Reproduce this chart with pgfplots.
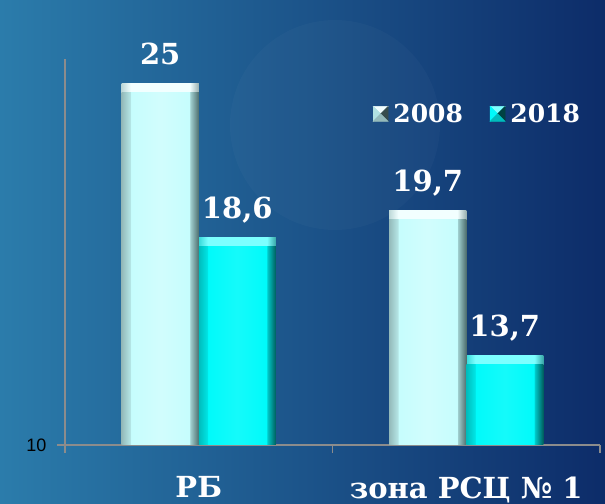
\documentclass[border=0pt]{standalone}
\usepackage{pgfplots}
\usepackage{pgfplotstable}
\pgfplotsset{compat=1.18}
\usepackage{fontspec}
\setmainfont{DejaVu Serif}
\newfontfamily\arialfont{Liberation Sans}

\definecolor{bgA}{HTML}{2B7CAB}
\definecolor{bgB}{HTML}{0D2C69}
\definecolor{axgray}{HTML}{8C8C8C}
% 2008 bars
\definecolor{aFace}{HTML}{C6FDFD}
\definecolor{aTop}{HTML}{F2FFFF}
\definecolor{aLeft}{HTML}{94BABA}
\definecolor{aRight}{HTML}{4E6E6E}
\definecolor{aBot}{HTML}{A8C8C8}
% 2018 bars
\definecolor{bFace}{HTML}{00FAFA}
\definecolor{bTop}{HTML}{7CFFFF}
\definecolor{bLeft}{HTML}{00BCBC}
\definecolor{bRight}{HTML}{005E5E}
\definecolor{bBot}{HTML}{00A0A0}

% side bevels (x: 25bp = left edge of bar, 75bp = right edge, 9bp bevel = 5.8bp here)
\pgfdeclarehorizontalshading{bevA}{100bp}{color(0bp)=(aLeft); color(25bp)=(aLeft);
  color(30.6bp)=(aLeft!35!aFace); color(31bp)=(aFace); color(50bp)=(aFace!80!white);
  color(69bp)=(aFace); color(69.4bp)=(aRight!30!aFace); color(75bp)=(aRight); color(100bp)=(aRight)}
\pgfdeclarehorizontalshading{bevB}{100bp}{color(0bp)=(bLeft); color(25bp)=(bLeft);
  color(30.6bp)=(bLeft!35!bFace); color(31bp)=(bFace); color(50bp)=(bFace!92!white); color(69bp)=(bFace);
  color(69.4bp)=(bRight!30!bFace); color(75bp)=(bRight); color(100bp)=(bRight)}
% top bevels
\pgfdeclarehorizontalshading{capA}{100bp}{color(0bp)=(aLeft); color(25bp)=(aLeft!55!aTop);
  color(30.8bp)=(aTop); color(69.2bp)=(aTop); color(75bp)=(aRight!55!aTop); color(100bp)=(aRight)}
\pgfdeclarehorizontalshading{capB}{100bp}{color(0bp)=(bLeft); color(25bp)=(bLeft!55!bTop);
  color(30.8bp)=(bTop); color(69.2bp)=(bTop); color(75bp)=(bRight!55!bTop); color(100bp)=(bRight)}

\newcommand\legsq[4]{%
  \fill[#1] (0bp,7.5bp) -- (15bp,7.5bp) -- (7.5bp,0bp) -- cycle;
  \fill[#2] (0bp,7.5bp) -- (0bp,-7.5bp) -- (7.5bp,0bp) -- cycle;
  \fill[#3] (15bp,7.5bp) -- (15bp,-7.5bp) -- (7.5bp,0bp) -- cycle;
  \fill[#4] (0bp,-7.5bp) -- (15bp,-7.5bp) -- (7.5bp,0bp) -- cycle;
}

\pgfplotstableread{
x y label
0 25 25
1 19.7 19,7
}\tblA
\pgfplotstableread{
x y label
0 18.6 18,6
1 13.7 13,7
}\tblB

\pgfplotsset{
  capbar/.style n args={3}{shade, shading=#1, draw=none, bar shift=#2, forget plot,
    restrict x to domain=#3, nodes near coords={\pgfplotspointmeta}},
  bodybar/.style n args={3}{shade, shading=#1, draw=none, bar shift=#2, forget plot,
    restrict x to domain=#3, yshift=-9bp},
}

\begin{document}
\begin{tikzpicture}
\useasboundingbox (0,0) rectangle (605bp,504bp);
\shade[left color=bgA, right color=bgB] (0,0) rectangle (605bp,504bp);
\fill[white, opacity=0.025] (335bp,379bp) circle (105bp);
\begin{axis}[
  at={(65bp,59bp)}, anchor=south west,
  scale only axis, width=535bp, height=386bp,
  xmin=-0.5, xmax=1.5, ymin=10, ymax=26,
  axis x line=bottom, axis y line=left,
  axis line style={axgray, line width=1.5bp, -},
  xtick={-0.5,0.5,1.5}, x tick label as interval,
  xticklabels={РБ, зона РСЦ № 1},
  ytick={10}, yticklabels={10},
  tick style={axgray, line width=1.5bp},
  tick align=outside,
  major tick length=8bp,
  xticklabel style={font=\fontsize{29bp}{32bp}\selectfont\bfseries, text=white, yshift=-20bp},
  yticklabel style={font=\arialfont\fontsize{18bp}{20bp}\selectfont, text=black, xshift=-7bp},
  ybar, bar width=0.288,
  point meta=explicit symbolic,
  every node near coord/.append style={font=\fontsize{29bp}{32bp}\selectfont\bfseries, text=white, anchor=base, inner sep=0pt, yshift=19bp},
  legend style={at={(0.771,0.858)}, anchor=center, draw=none, fill=none, text=white,
    font=\fontsize{25bp}{28bp}\selectfont\bfseries, legend columns=2,
    /tikz/every odd column/.append style={column sep=3bp},
    /tikz/every even column/.append style={column sep=25bp}},
]
% full bars: top bevel colour, with the value labels
\addplot[capbar={capA}{-0.144}{-0.5:0.5}] table[x=x, y=y, meta=label] {\tblA};
\addplot[capbar={capA}{-0.144}{0.5:1.5}]  table[x=x, y=y, meta=label] {\tblA};
\addplot[capbar={capB}{0.144}{-0.5:0.5}]  table[x=x, y=y, meta=label] {\tblB};
\addplot[capbar={capB}{0.144}{0.5:1.5}]   table[x=x, y=y, meta=label] {\tblB};
% bodies with side bevels
\addplot[bodybar={bevA}{-0.144}{-0.5:0.5}] table[x=x, y=y, meta=label] {\tblA};
\addplot[bodybar={bevA}{-0.144}{0.5:1.5}]  table[x=x, y=y, meta=label] {\tblA};
\addplot[bodybar={bevB}{0.144}{-0.5:0.5}]  table[x=x, y=y, meta=label] {\tblB};
\addplot[bodybar={bevB}{0.144}{0.5:1.5}]   table[x=x, y=y, meta=label] {\tblB};
\addlegendimage{legend image code/.code={\legsq{aTop}{aFace!60!aLeft}{aRight!70!black}{aLeft}}}
\addlegendentry{2008}
\addlegendimage{legend image code/.code={\legsq{bTop}{bFace}{bRight!70!black}{bLeft}}}
\addlegendentry{2018}
\end{axis}
\end{tikzpicture}
\end{document}
